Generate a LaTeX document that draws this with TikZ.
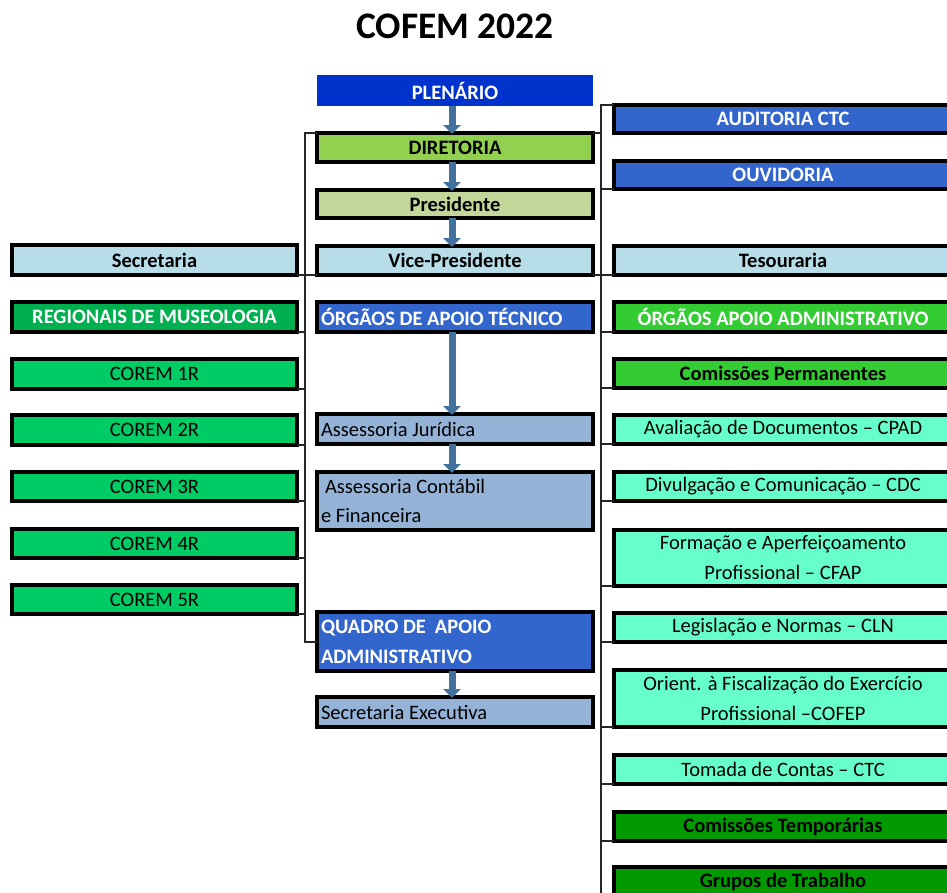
\documentclass[tikz,border=0pt]{standalone}
\usepackage{fontspec}
\setmainfont{Carlito}
\usetikzlibrary{arrows.meta}
\definecolor{royal}{RGB}{0,51,204}
\definecolor{midblue}{RGB}{51,102,204}
\definecolor{lightgreen}{RGB}{146,208,80}
\definecolor{olive}{RGB}{196,215,155}
\definecolor{paleblue}{RGB}{183,222,232}
\definecolor{greyblue}{RGB}{149,179,215}
\definecolor{regreen}{RGB}{0,176,80}
\definecolor{coremgreen}{RGB}{0,204,102}
\definecolor{brightgreen}{RGB}{51,204,51}
\definecolor{aqua}{RGB}{102,255,204}
\definecolor{darkgreen}{RGB}{0,153,0}
\definecolor{arrowblue}{RGB}{65,113,156}
\newcommand{\bodyfont}{\fontsize{20.5}{29}\selectfont}
\newcommand{\tallfont}{\fontsize{20.5}{30}\selectfont}
\begin{document}
\begin{tikzpicture}[x=1pt,y=-1pt,
  box/.style={draw=black, line width=3.1pt, inner sep=0pt, outer sep=0pt,
    anchor=north west, text=black, font=\bodyfont},
  bbox/.style={box, font=\bodyfont\bfseries},
  lbox/.style={box, align=flush left, inner xsep=4pt, text width=268pt},
  cbox/.style={box, align=flush center},
  cw/.style={minimum width=276pt},
  lw/.style={minimum width=285pt},
  rw/.style={minimum width=338pt},
  wire/.style={draw=black!85, line width=1.6pt},
  bigarrow/.style={draw=arrowblue, line width=7pt,
    -{Triangle[width=17pt,length=9pt]}, shorten >=-1pt}]
\useasboundingbox (0,0) rectangle (947,892);
\clip (0,0) rectangle (947,892);

% title
\node[font=\fontsize{37.5}{40}\selectfont\bfseries] (title) at (455,26) {COFEM 2022};

% central column
\node[bbox, cw, draw=none, fill=royal, text=white, minimum height=31pt] (plen) at (317,75) {PLENÁRIO};
\node[bbox, cw, fill=lightgreen, minimum height=29pt] (dir) at (317,133) {DIRETORIA};
\node[bbox, cw, fill=olive, minimum height=28pt] (pres) at (317,190) {Presidente};
\node[bbox, cw, fill=paleblue, minimum height=29pt] (vice) at (317,246) {Vice-Presidente};
\node[lbox, cw, fill=midblue, text=white, font=\bodyfont\bfseries, minimum height=30pt] (ota) at (317,302) {ÓRGÃOS DE APOIO TÉCNICO};
\node[lbox, cw, fill=greyblue, minimum height=30pt] (aj) at (317,414) {Assessoria Jurídica};
\node[lbox, cw, fill=greyblue, minimum height=58pt] (acf) at (317,472) {\hspace{4pt}Assessoria Contábil\\e Financeira};
\node[lbox, cw, fill=midblue, text=white, font=\tallfont\bfseries, minimum height=59pt] (qaa) at (317,612) {QUADRO DE\hspace{9pt}APOIO\\ADMINISTRATIVO};
\node[lbox, cw, fill=greyblue, minimum height=30pt] (se) at (317,697) {Secretaria Executiva};

% left column
\node[bbox, lw, fill=paleblue, minimum height=30pt] (sec) at (12,245) {Secretaria};
\node[bbox, lw, fill=regreen, text=white, minimum height=30pt] (reg) at (12,302) {REGIONAIS DE MUSEOLOGIA};
\node[box, lw, fill=coremgreen, minimum height=30pt] (c1) at (12,359) {COREM 1R};
\node[box, lw, fill=coremgreen, minimum height=30pt] (c2) at (12,415) {COREM 2R};
\node[box, lw, fill=coremgreen, minimum height=29pt] (c3) at (12,472) {COREM 3R};
\node[box, lw, fill=coremgreen, minimum height=29pt] (c4) at (12,529) {COREM 4R};
\node[box, lw, fill=coremgreen, minimum height=29pt] (c5) at (12,585) {COREM 5R};

% right column
\node[bbox, rw, fill=midblue, text=white, minimum height=28pt] (aud) at (614,105) {AUDITORIA CTC};
\node[bbox, rw, fill=midblue, text=white, minimum height=28pt] (ouv) at (614,161) {OUVIDORIA};
\node[bbox, rw, fill=paleblue, minimum height=29pt] (tes) at (614,246) {Tesouraria};
\node[bbox, rw, fill=brightgreen, text=white, minimum height=30pt] (oaa) at (614,302) {ÓRGÃOS APOIO ADMINISTRATIVO};
\node[bbox, rw, fill=brightgreen, minimum height=29pt] (cp) at (614,359) {Comissões Permanentes};
\node[cbox, rw, fill=aqua, minimum height=29pt] (cpad) at (614,415) {Avaliação de Documentos -- CPAD};
\node[cbox, rw, fill=aqua, minimum height=29pt] (cdc) at (614,472) {Divulgação e Comunicação -- CDC};
\node[cbox, rw, fill=aqua, minimum height=56pt, font=\tallfont] (cfap) at (614,530) {Formação e Aperfeiçoamento\\Profissional -- CFAP};
\node[cbox, rw, fill=aqua, minimum height=29pt] (cln) at (614,613) {Legislação e Normas -- CLN};
\node[cbox, rw, fill=aqua, minimum height=57pt, font=\tallfont] (cofep) at (614,670) {Orient. à Fiscalização do Exercício\\Profissional --COFEP};
\node[cbox, rw, fill=aqua, minimum height=29pt] (ctc) at (614,755) {Tomada de Contas -- CTC};
\node[bbox, rw, fill=darkgreen, minimum height=29pt] (ctemp) at (614,812) {Comissões Temporárias};
\node[bbox, rw, fill=darkgreen, minimum height=29pt] (gt) at (614,867) {Grupos de Trabalho};

% block arrows down the central column
\draw[bigarrow] ([xshift=-3pt]plen.south) -- ([xshift=-3pt]dir.north);
\draw[bigarrow] ([xshift=-3pt]dir.south) -- ([xshift=-3pt]pres.north);
\draw[bigarrow] ([xshift=-3pt]pres.south) -- ([xshift=-3pt]vice.north);
\draw[bigarrow] ([xshift=-3pt]ota.south) -- ([xshift=-3pt]aj.north);
\draw[bigarrow] ([xshift=-3pt]aj.south) -- ([xshift=-3pt]acf.north);
\draw[bigarrow] ([xshift=-3pt]qaa.south) -- ([xshift=-3pt]se.north);

% left trunk
\coordinate (ltop) at (305,133);
\coordinate (lbot) at (305,642);
\draw[wire] (dir.north west) -- (ltop) -- (lbot) -- (lbot -| qaa.west);
\draw[wire] (sec.south east) -- (vice.south west);
\foreach \n in {reg,c1,c2,c3,c4,c5}
  \draw[wire] (\n.south east) -- (\n.south east -| ltop);

% right trunk
\coordinate (rtop) at (601,105);
\coordinate (rbot) at (601,895);
\draw[wire] (aud.north west) -- (rtop) -- (rbot);
\draw[wire] (dir.north east) -- (dir.north east -| rtop);
\draw[wire] (vice.south east) -- (tes.south west);
\foreach \n in {ouv,oaa,cp,cpad,cdc,cfap,cln,cofep,ctc,ctemp}
  \draw[wire] (\n.south west) -- (\n.south west -| rtop);
\end{tikzpicture}
\end{document}
